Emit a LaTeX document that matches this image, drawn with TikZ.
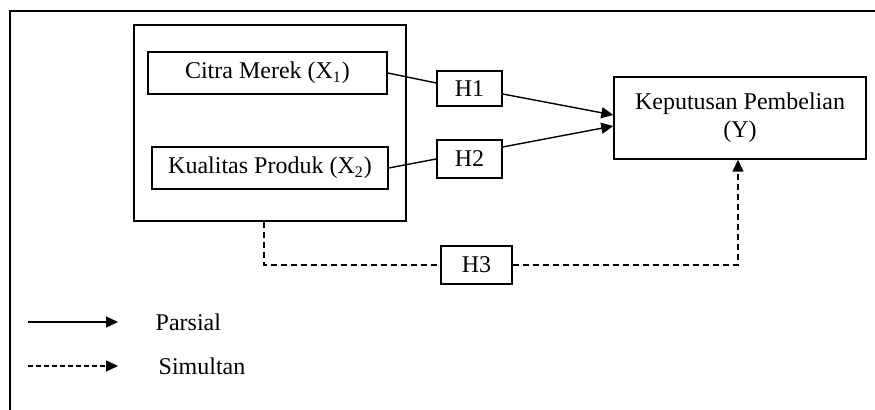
\documentclass[tikz,border=0pt]{standalone}
\usepackage{fontspec}
\setmainfont{Liberation Serif}
\usetikzlibrary{arrows.meta}
\begin{document}
\begin{tikzpicture}[x=0.5pt, y=-0.5pt, line width=0.7pt,
        kotak/.style={draw, shape=rectangle, inner sep=0pt, font=\fontsize{12}{14}\selectfont},
        panah/.style={-{Triangle[length=6pt, width=5.5pt]}},
        putus/.style={dash pattern=on 3pt off 2pt},
        teks/.style={inner sep=0pt, anchor=west, font=\fontsize{12}{14}\selectfont}]
            \useasboundingbox (0,0) rectangle (875,410);
            \draw[line width=0.8pt] (10,410) -- (10,11) -- (875,11);

            \node[kotak, minimum width=136pt, minimum height=98pt] (grp) at (270,123) {};
            \node[kotak, minimum width=119.5pt, minimum height=21pt] (cm) at (267.5,73) {Citra Merek (X\textsubscript{1})};
            \node[kotak, minimum width=118pt, minimum height=21pt] (kp) at (270,168) {Kualitas Produk (X\textsubscript{2})};

            \node[kotak, minimum width=32.5pt, minimum height=17.5pt] (h1) at (469.5,88.5) {H1};
            \node[kotak, minimum width=32.5pt, minimum height=19pt] (h2) at (469.5,159) {H2};
            \node[kotak, minimum width=35.5pt, minimum height=19pt] (h3) at (476.5,265) {H3};

            \node[kotak, minimum width=126pt, minimum height=41pt, align=center] (kpb) at (740,118) {Keputusan Pembelian\\(Y)};

            \draw (cm.east) -- ([yshift=2.75pt]h1.west);
            \draw (kp.east) -- (h2.west);
            \draw[panah] ([yshift=-2.75pt]h1.east) -- ([yshift=1.5pt]kpb.west);
            \draw[panah] ([yshift=6pt]h2.east) -- ([yshift=-4pt]kpb.west);

            \draw[putus] ([xshift=-3pt]grp.south) |- (h3.west);
            \draw[putus, panah] (h3.east) -| ([xshift=-1pt]kpb.south);

            \coordinate (pa) at (28,322);
            \coordinate (pb) at (118,322);
            \coordinate (sa) at (28,366);
            \coordinate (sb) at (118,366);
            \draw[panah] (pa) -- (pb);
            \draw[panah, dash pattern=on 2.5pt off 1.5pt] (sa) -- (sb);
            \node[teks] (par) at (155,322) {Parsial};
            \node[teks] (sim) at (158,366) {Simultan};
        \end{tikzpicture}
\end{document}
